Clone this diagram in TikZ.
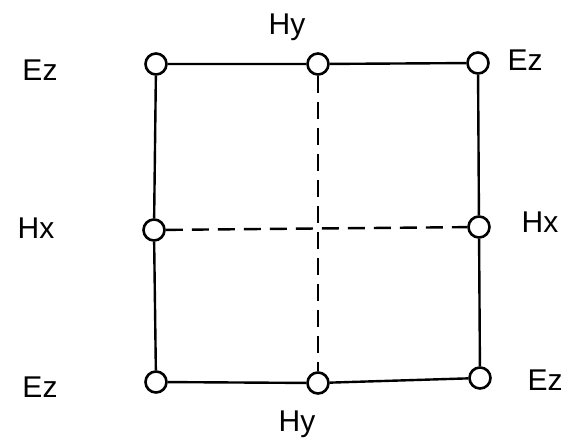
\documentclass[tikz,border=0pt]{standalone}
\usepackage{fontspec}
\setmainfont{Liberation Sans}
\usepackage{tikz}
\usetikzlibrary{positioning}
\tikzset{
  punto/.style={circle, draw=black, line width=1.3pt, fill=white,
    minimum size=10.5pt, inner sep=0pt},
  linea/.style={black, line width=1.2pt},
  discont/.style={linea, dash pattern=on 8.5pt off 4.5pt},
  etiqueta/.style={font=\fontsize{15}{17}\selectfont, inner sep=0pt}
}

\begin{document}
\begin{tikzpicture}[x=0.5pt, y=-0.5pt]
  \useasboundingbox (0,0) rectangle (572,444);

  % --- Puntos de la malla ---
  \node[punto] (ezNO) at (156,64)  {};
  \node[punto] (hyN)  at (318,64)  {};
  \node[punto] (ezNE) at (478,63)  {};
  \node[punto] (hxO)  at (154,230) {};
  \node[punto] (hxE)  at (479,227) {};
  \node[punto] (ezSO) at (156,382) {};
  \node[punto] (hyS)  at (318,383) {};
  \node[punto] (ezSE) at (480,378) {};

  % --- Bordes ---
  \draw[linea] (ezNO) -- (hyN) -- (ezNE);
  \draw[linea] (ezSO) -- (hyS) -- (ezSE);
  \draw[linea] (ezNO) -- (hxO) -- (ezSO);
  \draw[linea] (ezNE) -- (hxE) -- (ezSE);

  % Lineas interiores
  \draw[discont] (hyN) -- (hyS);
  \draw[discont] (hxO) -- (hxE);

  % --- Etiquetas ---
  \node[etiqueta] (lezNO) at (40,70)   {Ez};
  \node[etiqueta] (lhyN)  at (287,27)  {Hy};
  \node[etiqueta] (lezNE) at (525,60)  {Ez};
  \node[etiqueta] (lhxO)  at (36,228)  {Hx};
  \node[etiqueta] (lhxE)  at (540,222) {Hx};
  \node[etiqueta] (lezSO) at (40,387)  {Ez};
  \node[etiqueta] (lezSE) at (545,380) {Ez};
  \node[etiqueta] (lhyS)  at (297,424) {Hy};

\end{tikzpicture}
\end{document}
